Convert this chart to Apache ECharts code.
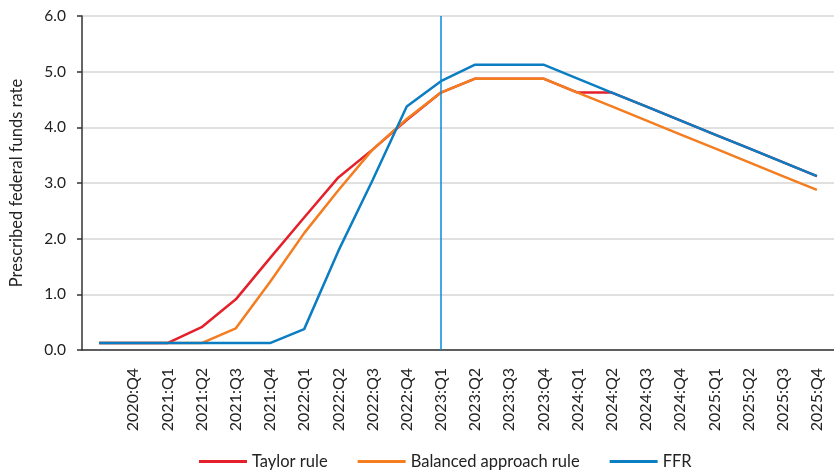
<!DOCTYPE html>
<html>
<head>
<meta charset="utf-8">
<script src="https://cdn.jsdelivr.net/npm/echarts@6/dist/echarts.min.js"></script>
<style>
html,body{margin:0;padding:0;background:#fff;}
#chart{width:834px;height:476px;}
</style>
</head>
<body>
<div id="chart"></div>
<script>
const categories = ['2020:Q3','2020:Q4','2021:Q1','2021:Q2','2021:Q3','2021:Q4','2022:Q1','2022:Q2','2022:Q3','2022:Q4','2023:Q1','2023:Q2','2023:Q3','2023:Q4','2024:Q1','2024:Q2','2024:Q3','2024:Q4','2025:Q1','2025:Q2','2025:Q3','2025:Q4'];
const taylorRule = [0.125,0.125,0.125,0.41,0.91,1.65,2.38,3.10,3.60,4.13,4.625,4.875,4.875,4.875,4.625,4.625,4.375,4.125,3.875,3.625,3.375,3.125];
const balancedRule = [0.125,0.125,0.125,0.125,0.39,1.22,2.10,2.87,3.60,4.15,4.625,4.875,4.875,4.875,4.625,4.375,4.125,3.875,3.625,3.375,3.125,2.875];
const ffr = [0.125,0.125,0.125,0.125,0.125,0.125,0.375,1.78,3.05,4.375,4.83,5.125,5.125,5.125,4.875,4.625,4.375,4.125,3.875,3.625,3.375,3.125];
const yTicks = [0, 6, 1];
const markerCategory = '2023:Q1';

const FONT = 'Lato, "Open Sans", sans-serif';
const chart = echarts.init(document.getElementById('chart'));
chart.setOption({
  animation: false,
  textStyle: {fontFamily: FONT},
  grid: {left: 80, top: 16, right: -5.524, bottom: 126, containLabel: false},
  legend: {
    bottom: 1,
    left: 194,
    icon: 'rect',
    itemWidth: 48,
    itemHeight: 3,
    itemGap: 30,
    textStyle: {fontSize: 16.5, color: '#222', fontFamily: FONT},
    data: ['Taylor rule', 'Balanced approach rule', 'FFR']
  },
  xAxis: {
    type: 'category',
    data: categories,
    boundaryGap: true,
    axisLine: {lineStyle: {color: '#333', width: 1.5}},
    axisTick: {alignWithLabel: true, length: 6, interval: (i) => i !== 0, lineStyle: {color: '#333', width: 1.5}},
    axisLabel: {rotate: 90, margin: 18, fontSize: 16, color: '#222', interval: (i) => i !== 0, fontFamily: FONT},
    splitLine: {show: false}
  },
  yAxis: {
    type: 'value',
    min: yTicks[0], max: yTicks[1], interval: yTicks[2],
    name: 'Prescribed federal funds rate',
    nameLocation: 'middle',
    nameGap: 57,
    nameTextStyle: {fontSize: 16.5, color: '#222', fontFamily: FONT},
    axisLine: {show: true, lineStyle: {color: '#333', width: 1.5}},
    axisTick: {show: true, length: 5, lineStyle: {color: '#333', width: 1.5}},
    axisLabel: {formatter: (v) => v.toFixed(1), fontSize: 15.5, color: '#222', margin: 16, fontFamily: FONT},
    splitLine: {lineStyle: {color: '#d6d6d6', width: 1.5}}
  },
  series: [
    {name: 'Taylor rule', type: 'line', data: taylorRule, symbol: 'none', z: 2,
     lineStyle: {color: '#e4202a', width: 2.5}, itemStyle: {color: '#e4202a'}},
    {name: 'Balanced approach rule', type: 'line', data: balancedRule, symbol: 'none', z: 3,
     lineStyle: {color: '#f47d20', width: 2.5}, itemStyle: {color: '#f47d20'}},
    {name: 'FFR', type: 'line', data: ffr, symbol: 'none', z: 4,
     lineStyle: {color: '#0b7dc3', width: 2.5}, itemStyle: {color: '#0b7dc3'},
     markLine: {silent: true, symbol: ['none', 'none'], label: {show: false},
       lineStyle: {color: '#0a8ad8', width: 1.5, type: 'solid', opacity: 1},
       itemStyle: {color: '#0a8ad8'},
       emphasis: {disabled: true},
       data: [{xAxis: markerCategory, lineStyle: {color: '#0a8ad8', width: 1.5, type: 'solid'}}]}}
  ]
});
</script>
</body>
</html>
